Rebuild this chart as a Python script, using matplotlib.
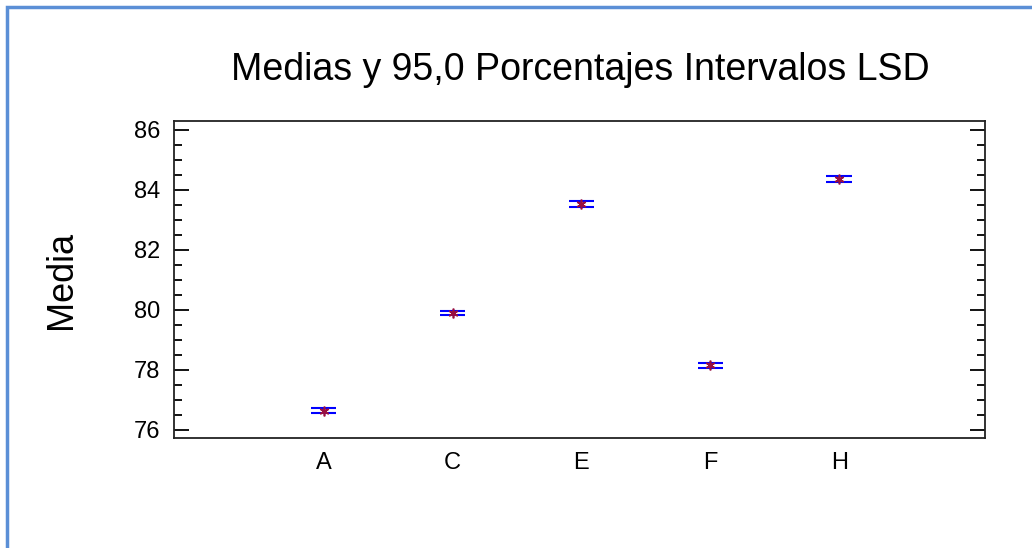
import matplotlib.pyplot as plt
from matplotlib.patches import Rectangle
import numpy as np

plt.rcParams['font.family'] = ['Liberation Sans', 'DejaVu Sans']

groups = ['A', 'C', 'E', 'F', 'H']
means = [76.64, 79.90, 83.53, 78.16, 84.35]
lower = [76.56, 79.83, 83.43, 78.08, 84.25]
upper = [76.72, 79.97, 83.63, 78.24, 84.45]

fig = plt.figure(figsize=(10.32, 5.48), dpi=100)
ax = fig.add_axes([0.1686, 0.2007, 0.7859, 0.5785])

x = np.arange(1, len(groups) + 1)
ax.hlines(lower, x - 0.1, x + 0.1, color='#0000ff', lw=1.5)
ax.hlines(upper, x - 0.1, x + 0.1, color='#0000ff', lw=1.5)
ax.vlines(x, lower, upper, color='#0000ff', lw=1.2)
ax.plot(x, means, ls='none', marker=(6, 2, 0), ms=7, mew=1.2, color='#9a1040')

ax.set_xlim(-0.16, 6.13)
ax.set_ylim(75.73, 86.3)
ax.set_xticks(x)
ax.set_xticklabels(groups)
ax.set_yticks(np.arange(76, 87, 2))
ax.set_yticks(np.arange(76, 86.1, 0.5), minor=True)

ax.tick_params(axis='y', which='major', direction='in', length=11, width=1.3,
               right=True, labelsize=17, pad=10)
ax.tick_params(axis='y', which='minor', direction='in', length=6, width=1.3,
               right=True)
ax.tick_params(axis='x', length=0, labelsize=17, pad=10)
for s in ax.spines.values():
    s.set_linewidth(1.3)
    s.set_color('#222222')

fig.text(0.562, 0.872, 'Medias y 95,0 Porcentajes Intervalos LSD',
         ha='center', va='center', fontsize=27)
fig.text(0.060, 0.49, 'Media', rotation=90, ha='center', va='center',
         fontsize=26)

# blue frame round the picture, open to the right and bottom
fig.patches.append(Rectangle((7, -600), 1100, 1141, transform=None,
                             fill=False, ec='#5b8fd6', lw=2.5))

fig.savefig('out.png', dpi=100)
